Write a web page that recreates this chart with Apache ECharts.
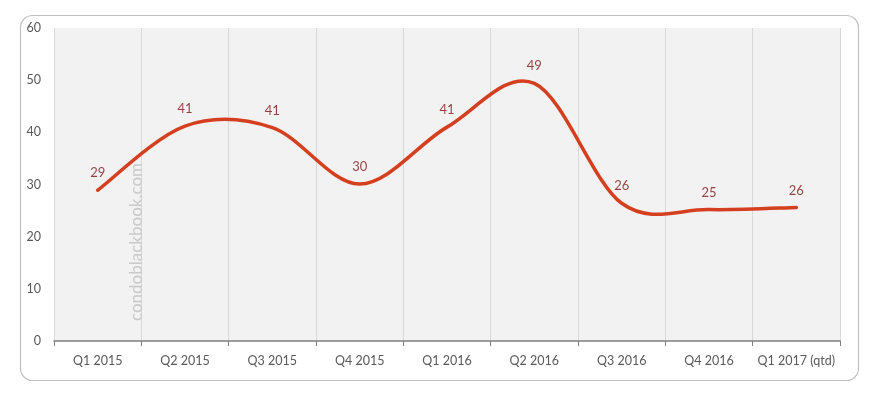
<!DOCTYPE html>
<html><head><meta charset="utf-8">
<script src="https://cdn.jsdelivr.net/npm/echarts@6/dist/echarts.min.js"></script>
<style>html,body{margin:0;padding:0;background:#fff}#c{width:874px;height:395px}</style>
</head><body><div id="c"></div>
<script>
const categories = ['Q1 2015','Q2 2015','Q3 2015','Q4 2015','Q1 2016','Q2 2016','Q3 2016','Q4 2016','Q1 2017 (qtd)'];
const values = [28.9, 41.2, 40.9, 30.1, 41.0, 49.4, 26.4, 25.2, 25.6];
const yTicks = [0, 10, 20, 30, 40, 50, 60];
const watermark = 'condoblackbook.com';

const chart = echarts.init(document.getElementById('c'), null, {renderer:'canvas'});
const font = 'Lato, "Open Sans", sans-serif';
const pairs = values.map((v, i) => [i, v]);

function renderSmooth(params, api) {
  if (params.dataIndex !== 0) return null;
  const pts = values.map((v, i) => api.coord([i, v]));
  const n = pts.length;
  let d = 'M' + pts[0][0] + ',' + pts[0][1];
  for (let i = 0; i < n - 1; i++) {
    const p0 = pts[Math.max(i - 1, 0)], p1 = pts[i], p2 = pts[i + 1], p3 = pts[Math.min(i + 2, n - 1)];
    const c1x = p1[0] + (p2[0] - p0[0]) / 6, c1y = p1[1] + (p2[1] - p0[1]) / 6;
    const c2x = p2[0] - (p3[0] - p1[0]) / 6, c2y = p2[1] - (p3[1] - p1[1]) / 6;
    d += ' C' + c1x + ',' + c1y + ' ' + c2x + ',' + c2y + ' ' + p2[0] + ',' + p2[1];
  }
  return {type:'path', shape:{pathData:d}, style:{fill:'none', stroke:'#d4401f', lineWidth:3.5, lineCap:'round', lineJoin:'round'}};
}

chart.setOption({
  animation:false,
  backgroundColor:'#fff',
  grid:{left:54, right:34, top:28, bottom:54, show:true, backgroundColor:'#f2f2f2', borderWidth:0},
  xAxis:{
    type:'category', data:categories, boundaryGap:true,
    axisLine:{lineStyle:{color:'#7f7f7f', width:1.5}},
    axisTick:{show:true, interval:0, length:5, lineStyle:{color:'#7f7f7f'}},
    axisLabel:{interval:0, color:'#595959', fontSize:12.5, fontFamily:font, margin:13},
    splitLine:{show:true, interval:0, lineStyle:{color:'#d9d9d9', width:1}}
  },
  yAxis:{
    type:'value', min:yTicks[0], max:yTicks[yTicks.length-1], interval:10,
    axisLine:{show:false}, axisTick:{show:false},
    axisLabel:{color:'#595959', fontSize:12.5, fontFamily:font, margin:13},
    splitLine:{show:false}
  },
  graphic:[
    {type:'rect', left:18, top:13, shape:{width:838, height:365, r:12}, style:{fill:'none', stroke:'#c0c0c0', lineWidth:1.2}, z:-1},
    {type:'text', x:137, y:321, rotation:Math.PI/2, style:{text:watermark, fill:'#c9c9c9', font:'17px '+font, textAlign:'left', textVerticalAlign:'middle'}, z:5}
  ],
  series:[
    {type:'custom', data:pairs, encode:{x:0, y:1}, renderItem:renderSmooth, clip:false, z:3},
    {type:'scatter', data:pairs, symbolSize:1, itemStyle:{color:'rgba(0,0,0,0)'},
     label:{show:true, position:'top', distance:10, color:'#7a1515', fontSize:13, fontFamily:font,
       formatter:p => Math.round(p.value[1])},
     labelLayout:{hideOverlap:false}, z:4}
  ]
});
</script></body></html>
